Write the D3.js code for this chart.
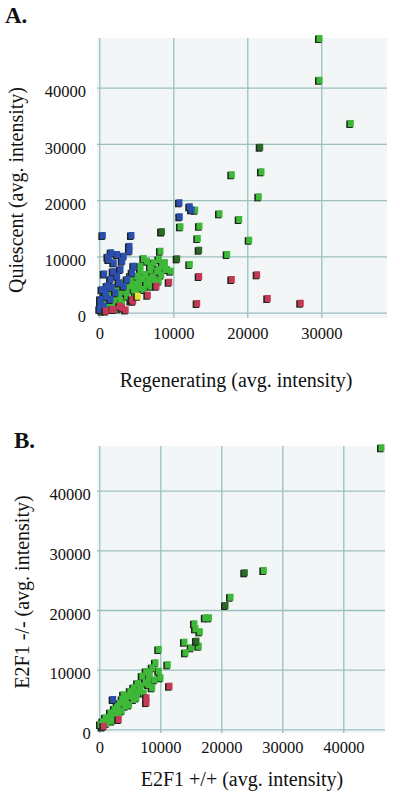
<!DOCTYPE html>
<html><head><meta charset="utf-8">
<script src="https://cdn.jsdelivr.net/npm/d3@7"></script>
<style>body{margin:0;background:#fff}svg{display:block}</style>
</head><body><svg id="c" width="400" height="804"></svg>
<script>
// ---------- data (avg. intensity) ----------
const tickA_x = [0, 10000, 20000, 30000];
const tickA_y = [0, 10000, 20000, 30000, 40000];
const tickB_x = [0, 10000, 20000, 30000, 40000];
const tickB_y = [0, 10000, 20000, 30000, 40000];

const aGreen = [[29690,48660],[29690,41240],[33920,33550],[17840,24430],[21850,24960],[21490,20510],[12890,18130],[16180,17490],[18840,16480],[10900,15180],[13470,15290],[8380,14290],[13240,13100],[20190,12800],[17220,10260],[12160,8480],
 [8200,10840],[7980,9370],[5950,9530],[7300,8780],[8880,7590],[7980,7590],[6850,7590],[5500,7290],[4150,6400],[3240,5230],[2340,4520],[1440,3440],[540,2660],[6400,9070],[5500,8180],[6850,8180],[8430,8180],[9100,7590],[7750,7290],[6180,6700],[5050,6400],[4150,5810],[5270,5230],[6620,5810],[7970,5520],[3240,4040],[4590,4040],[5950,4040],[2350,2840],[3700,2840],[1450,1670],[2800,1960],[540,480],[6850,4620],[4800,3300],[3600,3500],[2800,3700],[1900,2300],[1000,1200],[300,200],[1200,800],[2000,1200],[3000,1500],[4200,2000],[5300,4300],[6300,5000],[7100,6300],[8300,6600],[9600,7300],[5800,6000],[4600,5000],[3900,4700],[8800,8800],[7400,5800],[2600,3000],[1800,3600],[200,900],[700,1700],[1500,500],[2500,600]];
const aDarkGreen = [[21680,29330],[13430,11020],[10460,9490],[8380,14290]];
const aBlue = [[410,13640],[4280,13640],[10770,19450],[12160,18740],[12400,18200],[10810,16960],[4010,11700],[4010,10900],[1540,10560],[2350,10260],[3240,9960],[1220,9370],[1890,8780],[3030,9070],[2800,7590],[2350,6400],[1450,5810],[1000,4620],[770,3450],[100,2260],[4590,8180],[4380,7000],[3700,5810],[3240,4620],[2120,3450],[1450,2260],[540,1070],[0,500],[600,6800],[1800,7200],[300,4000],[1600,4400],[900,2800],[2600,5200],[100,1400],[1100,9800]];
const aRed = [[13430,6350],[17840,5810],[21270,6650],[9380,5330],[7660,4620],[13160,1550],[22700,2440],[27160,1600],[6490,3020],[4510,1960],[2700,1070],[1680,480],[4380,2260],[3030,780],[1890,480],[800,200],[3500,400]];
const aYellow = [[5140,2840]];

const bGreen = [[46180,47110],[26890,26540],[21430,22060],[17300,18600],[17900,18600],[15520,17600],[15690,16760],[16400,16260],[13880,14520],[16230,13850],[14980,13580],[14050,12740],[9670,13290],[9130,11060],[11150,10730],[8590,10230],[9670,9660],[6950,8820],[8030,8550],[9950,8550],[8590,6870],[6670,7140],[5570,6870],[6130,6040],[4750,5460],[3670,4910],[5570,4910],[2850,3790],[4210,3790],[1750,2680],[3000,2400],[930,1840],[115,720],[7500,7700],[6200,7600],[5000,6300],[4200,4800],[3300,4300],[2400,3300],[1500,1800],[2200,2000],[3600,3000],[4800,4000],[6000,5200],[7200,6000],[8000,7400],[9000,8200],[400,300],[1100,900],[2000,1300],[2700,2900],[3900,5700],[5200,5700],[6600,6400],[500,1200],[7600,9600],[8200,9300]];
const bDarkGreen = [[23770,26150],[20610,20670],[15850,14690]];
const bBlue = [[2190,4910]];
const bRed = [[11430,7140],[7660,5200],[7660,4400],[650,440],[3110,1560]];

// ---------- drawing ----------
const svg = d3.select("#c");
const COL = {green:"#3fb83a", dark:"#2a6a26", blue:"#2c4fae", red:"#c43a56", yellow:"#e6e02e"};
const serif = "'Liberation Serif','Times New Roman',serif";

function panel(cfg){
  const g = svg.append("g");
  const x = d3.scaleLinear().domain(cfg.xd).range([cfg.L, cfg.R]);
  const y = d3.scaleLinear().domain(cfg.yd).range([cfg.B, cfg.T]);
  g.append("rect").attr("x",cfg.L).attr("y",cfg.T).attr("width",cfg.R-cfg.L).attr("height",cfg.B-cfg.T).attr("fill","#f2f6f6");
  const gx = g.append("g").attr("transform",`translate(0,${cfg.B})`)
    .call(d3.axisBottom(x).tickValues(cfg.tx).tickSize(-(cfg.B-cfg.T)).tickFormat(d3.format("d")));
  const gy = g.append("g").attr("transform",`translate(${cfg.L},0)`)
    .call(d3.axisLeft(y).tickValues(cfg.ty).tickSize(-(cfg.R-cfg.L)).tickFormat(d3.format("d")));
  [gx,gy].forEach(a=>{
    a.select(".domain").remove();
    a.selectAll("line").attr("stroke","#9cbfbf").attr("stroke-width",1.3);
    a.selectAll("text").attr("font-family",serif).attr("font-size","16.5px").attr("fill","#111");
  });
  gx.selectAll("text").attr("y",cfg.xLabY-cfg.B).attr("dy","0");
  gy.selectAll("text").attr("x",cfg.yLabX-cfg.L).attr("dy","0.55em");
  const layers = [[cfg.green,COL.green],[cfg.dark,COL.dark],[cfg.blue,COL.blue],[cfg.red,COL.red],[cfg.yellow,COL.yellow]];
  layers.forEach(([data,c])=>{
    const m = g.append("g");
    m.selectAll("rect.s").data(data).join("rect").attr("class","s")
      .attr("x",d=>x(d[0])-4).attr("y",d=>y(d[1])-3.5).attr("width",6.5).attr("height",7.5).attr("fill","#1c221c");
    m.selectAll("rect.f").data(data).join("rect").attr("class","f")
      .attr("x",d=>x(d[0])-2.5).attr("y",d=>y(d[1])-4).attr("width",6).attr("height",7).attr("fill",c);
  });
  g.append("text").attr("x",cfg.xt[0]).attr("y",cfg.xt[1]).attr("text-anchor","middle")
    .attr("font-family",serif).attr("font-size","20px").attr("fill","#111").text(cfg.xTitle);
  g.append("text").attr("transform",`translate(${cfg.yt[0]},${cfg.yt[1]}) rotate(-90)`).attr("text-anchor","middle")
    .attr("font-family",serif).attr("font-size","20px").attr("fill","#111").text(cfg.yTitle);
  g.append("text").attr("x",cfg.lab[0]).attr("y",cfg.lab[1]).attr("font-family",serif)
    .attr("font-weight","bold").attr("font-size","23px").attr("fill","#111").text(cfg.label);
}

panel({L:97,R:387,T:38,B:318, xd:[-311,38880], yd:[-942,48836], tx:tickA_x, ty:tickA_y,
  xLabY:339, yLabX:86, green:aGreen, dark:aDarkGreen, blue:aBlue, red:aRed, yellow:aYellow,
  xTitle:"Regenerating (avg. intensity)", xt:[236,387], yTitle:"Quiescent (avg. intensity)", yt:[23,190],
  label:"A.", lab:[5,23]});
panel({L:97,R:385,T:446,B:733, xd:[-377,46836], yd:[-620,47494], tx:tickB_x, ty:tickB_y,
  xLabY:753, yLabX:90.7, green:bGreen, dark:bDarkGreen, blue:bBlue, red:bRed, yellow:[],
  xTitle:"E2F1 +/+ (avg. intensity)", xt:[242,786], yTitle:"E2F1 -/- (avg. intensity)", yt:[29,592],
  label:"B.", lab:[14,448]});
</script></body></html>
